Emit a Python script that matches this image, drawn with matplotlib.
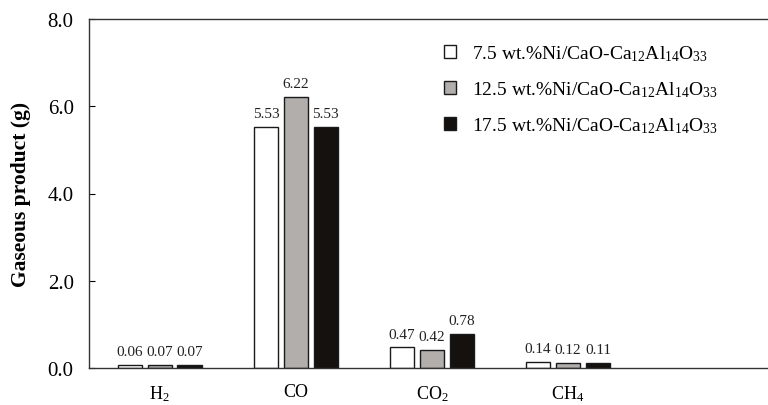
import matplotlib
matplotlib.use("Agg")
import matplotlib.pyplot as plt
import numpy as np

plt.rcParams['font.family'] = ['Liberation Serif', 'DejaVu Serif']
plt.rcParams['mathtext.fontset'] = 'custom'
plt.rcParams['mathtext.rm'] = 'Liberation Serif'
plt.rcParams['mathtext.it'] = 'Liberation Serif:italic'
plt.rcParams['mathtext.bf'] = 'Liberation Serif:bold'

categories = ['H$_2$', 'CO', 'CO$_2$', 'CH$_4$']
series_names = [
    '7.5 wt.%Ni/CaO-Ca$_{12}$Al$_{14}$O$_{33}$',
    '12.5 wt.%Ni/CaO-Ca$_{12}$Al$_{14}$O$_{33}$',
    '17.5 wt.%Ni/CaO-Ca$_{12}$Al$_{14}$O$_{33}$',
]
ni_7_5 = [0.06, 5.53, 0.47, 0.14]
ni_12_5 = [0.07, 6.22, 0.42, 0.12]
ni_17_5 = [0.07, 5.53, 0.78, 0.11]
y_ticks = [0.0, 2.0, 4.0, 6.0, 8.0]

fills = ['#ffffff', '#b1aeac', '#15110f']

fig = plt.figure(figsize=(7.68, 4.06), dpi=100)
ax = fig.add_axes([89 / 768, 1 - 369 / 406, (768 - 89) / 768, (369 - 20) / 406])

x = np.arange(len(categories))
width = 0.18
step = 0.22
for i, (vals, color, name) in enumerate(zip([ni_7_5, ni_12_5, ni_17_5], fills, series_names)):
    pos = x + (i - 1) * step
    ax.bar(pos, vals, width=width, color=color, edgecolor='#1a1a1a', linewidth=1.0, label=name)
    for px, v in zip(pos, vals):
        ax.text(px, v + 0.16, f'{v:.2f}', ha='center', va='bottom', fontsize=11, color='#222222')

ax.set_xlim(-0.52, 4.47)
ax.set_ylim(0, 8)
ax.set_xticks(x)
ax.set_xticklabels(categories, fontsize=13)
ax.tick_params(axis='x', length=0, pad=11)
ax.set_yticks(y_ticks)
ax.set_yticklabels([f'{t:.1f}' for t in y_ticks], fontsize=15)
ax.tick_params(axis='y', direction='in', length=4, width=0.8, pad=11)
ax.spines['right'].set_visible(False)
for s in ['left', 'top', 'bottom']:
    ax.spines[s].set_linewidth(1.0)
    ax.spines[s].set_color('#333333')

ax.set_ylabel('Gaseous product (g)', fontsize=15.5, fontweight='bold', labelpad=12)

ax.legend(loc='upper left', bbox_to_anchor=(0.505, 0.965), frameon=False, fontsize=14,
          handlelength=0.65, handleheight=0.65, handletextpad=0.8, labelspacing=0.85,
          borderaxespad=0.2)

fig.savefig('out.png', dpi=100)
